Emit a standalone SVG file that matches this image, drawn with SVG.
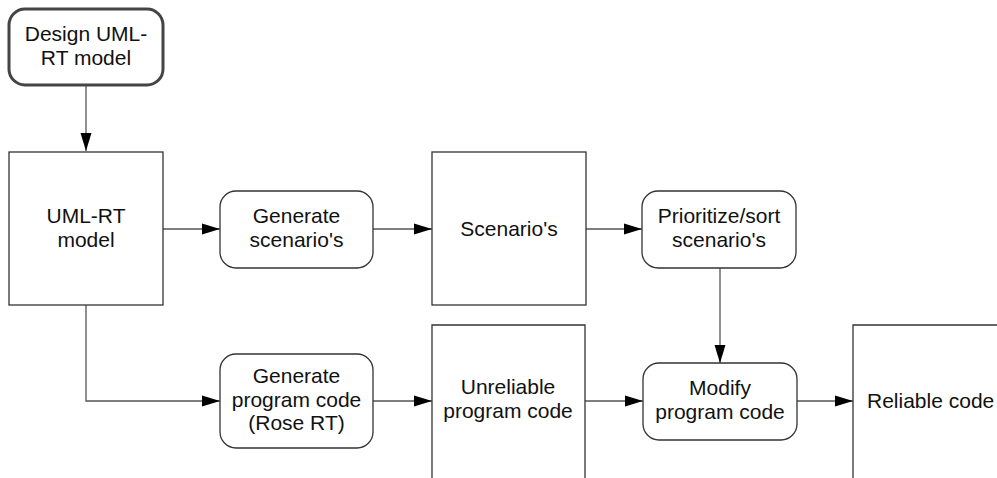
<svg xmlns="http://www.w3.org/2000/svg" width="997" height="478" viewBox="0 0 997 478">
  <defs>
    <marker id="arrow" markerWidth="18" markerHeight="12" refX="18" refY="6" orient="auto" markerUnits="userSpaceOnUse">
      <path d="M0,0.5 L18,6 L0,11.5 Z" fill="#000"/>
    </marker>
  </defs>
  <style>
    .box { fill: #fff; stroke: #333; stroke-width: 1.3; }
    .start { fill: #fff; stroke: #444; stroke-width: 3; }
    .edge { fill: none; stroke: #555; stroke-width: 1.3; marker-end: url(#arrow); }
    text { font-family: "Liberation Sans", Arial, sans-serif; font-size: 21px; fill: #111; text-anchor: middle; }
  </style>

  <g id="connectors">
    <path class="edge" d="M86,86 L86,151"/>
    <path class="edge" d="M163,229 L220,229"/>
    <path class="edge" d="M373,229 L432,229"/>
    <path class="edge" d="M586,229 L642,229"/>
    <path class="edge" d="M86,305 L86,401 L220,401"/>
    <path class="edge" d="M373,401 L432,401"/>
    <path class="edge" d="M585,401 L643,401"/>
    <path class="edge" d="M720,268 L720,363"/>
    <path class="edge" d="M797,401 L853,401"/>
  </g>

  <g id="design-model">
    <rect class="start" x="9" y="9" width="154" height="76" rx="16" ry="16"/>
    <text x="86" y="41">Design UML-</text>
    <text x="86" y="65">RT model</text>
  </g>

  <g id="umlrt-model">
    <rect class="box" x="9" y="152" width="154" height="153"/>
    <text x="86" y="223">UML-RT</text>
    <text x="86" y="247">model</text>
  </g>

  <g id="generate-scenarios">
    <rect class="box" x="220" y="191" width="153" height="77" rx="16" ry="16"/>
    <text x="296.5" y="223">Generate</text>
    <text x="296.5" y="247">scenario's</text>
  </g>

  <g id="scenarios">
    <rect class="box" x="432" y="152" width="154" height="153"/>
    <text x="509" y="236">Scenario's</text>
  </g>

  <g id="prioritize">
    <rect class="box" x="642" y="191" width="154" height="77" rx="16" ry="16"/>
    <text x="719" y="223">Prioritize/sort</text>
    <text x="719" y="247">scenario's</text>
  </g>

  <g id="generate-code">
    <rect class="box" x="220" y="354" width="153" height="94" rx="16" ry="16"/>
    <text x="296.5" y="383">Generate</text>
    <text x="296.5" y="407">program code</text>
    <text x="296.5" y="430">(Rose RT)</text>
  </g>

  <g id="unreliable-code">
    <path class="box" d="M432,480 L432,325 L585,325 L585,480"/>
    <text x="508" y="394">Unreliable</text>
    <text x="508" y="418">program code</text>
  </g>

  <g id="modify-code">
    <rect class="box" x="643" y="363" width="154" height="77" rx="16" ry="16"/>
    <text x="720" y="395">Modify</text>
    <text x="720" y="419">program code</text>
  </g>

  <g id="reliable-code">
    <path class="box" d="M853,480 L853,325 L1000,325"/>
    <text x="867" y="408" style="text-anchor:start">Reliable code</text>
  </g>
</svg>
